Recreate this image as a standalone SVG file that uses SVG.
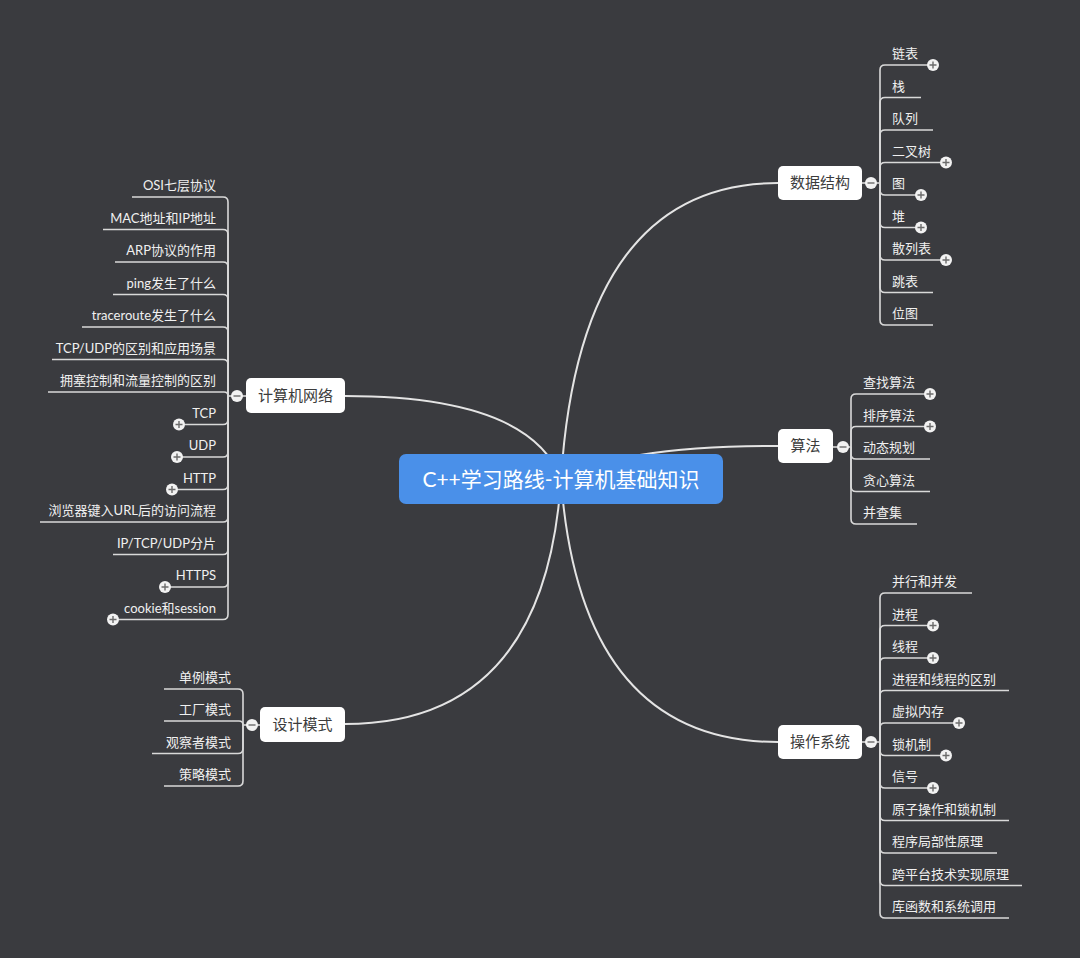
<svg xmlns="http://www.w3.org/2000/svg" xmlns:xlink="http://www.w3.org/1999/xlink" width="1080" height="958" viewBox="0 0 1080 958">
<style>
.bg{fill:#3a3b3f}
.main{fill:none;stroke:#e4e4e4;stroke-width:2}
.ln{fill:none;stroke:#d9d9d9;stroke-width:1.6}
.leaf{font-family:Lato,"Noto Sans CJK SC",sans-serif;font-size:13px;fill:#f0f0f0}
.lft{text-anchor:end}
.nrect{fill:#ffffff}
.ntext{font-family:"Noto Sans CJK SC","Noto Sans",sans-serif;font-size:15px;fill:#3c3c3c;text-anchor:middle}
.ctext{font-family:Lato,"Noto Sans CJK SC",sans-serif;font-size:21px;fill:#ffffff;text-anchor:middle}
</style>
<defs>
<g id="plus"><circle r="6" fill="#f2f2f2"/><path d="M-3.5,0H3.5M0,-3.5V3.5" stroke="#6b6b6b" stroke-width="1.4"/></g>
<g id="minus"><circle r="6" fill="#f2f2f2"/><path d="M-3.5,0H3.5" stroke="#6b6b6b" stroke-width="1.4"/></g>
</defs>
<rect class="bg" x="0" y="0" width="1080" height="958"/>

<g id="connectors">
<path class="main" d="M561,479 Q580,183 778,183"/>
<path class="main" d="M561,479 Q620,446 778,446"/>
<path class="main" d="M561,479 Q580,742 778,742"/>
<path class="main" d="M561,479 Q530,396 345,396"/>
<path class="main" d="M561,479 Q545,724 345,724"/>
<!-- data structures -->
<path class="ln" d="M862,183H880"/>
<path class="ln" d="M880,183V70Q880,65 885,65H933"/>
<path class="ln" d="M880,183V102.5Q880,97.5 885,97.5H921"/>
<path class="ln" d="M880,183V135Q880,130 885,130H933"/>
<path class="ln" d="M880,183V167.5Q880,162.5 885,162.5H946"/>
<path class="ln" d="M880,183V190Q880,195 885,195H921"/>
<path class="ln" d="M880,183V222.5Q880,227.5 885,227.5H921"/>
<path class="ln" d="M880,183V255Q880,260 885,260H946"/>
<path class="ln" d="M880,183V287.5Q880,292.5 885,292.5H933"/>
<path class="ln" d="M880,183V320Q880,325 885,325H933"/>
<!-- algorithms -->
<path class="ln" d="M833,447H851"/>
<path class="ln" d="M851,447V399Q851,394 856,394H930"/>
<path class="ln" d="M851,447V431.5Q851,426.5 856,426.5H930"/>
<path class="ln" d="M851,447V454Q851,459 856,459H930"/>
<path class="ln" d="M851,447V486.5Q851,491.5 856,491.5H930"/>
<path class="ln" d="M851,447V519Q851,524 856,524H917"/>
<!-- operating system -->
<path class="ln" d="M862,742H880"/>
<path class="ln" d="M880,742V598Q880,593 885,593H972"/>
<path class="ln" d="M880,742V630.5Q880,625.5 885,625.5H933"/>
<path class="ln" d="M880,742V663Q880,658 885,658H933"/>
<path class="ln" d="M880,742V695.5Q880,690.5 885,690.5H1009"/>
<path class="ln" d="M880,742V728Q880,723 885,723H959"/>
<path class="ln" d="M880,742V750.5Q880,755.5 885,755.5H946"/>
<path class="ln" d="M880,742V783Q880,788 885,788H933"/>
<path class="ln" d="M880,742V815.5Q880,820.5 885,820.5H1009"/>
<path class="ln" d="M880,742V848Q880,853 885,853H997"/>
<path class="ln" d="M880,742V880.5Q880,885.5 885,885.5H1022"/>
<path class="ln" d="M880,742V913Q880,918 885,918H1009"/>
<!-- network -->
<path class="ln" d="M246,396H228"/>
<path class="ln" d="M228,396V202Q228,197 223,197H132"/>
<path class="ln" d="M228,396V234.5Q228,229.5 223,229.5H103"/>
<path class="ln" d="M228,396V267Q228,262 223,262H115"/>
<path class="ln" d="M228,396V299.5Q228,294.5 223,294.5H113"/>
<path class="ln" d="M228,396V332Q228,327 223,327H82"/>
<path class="ln" d="M228,396V364.5Q228,359.5 223,359.5H52"/>
<path class="ln" d="M228,396V396Q228,392 224,392H48"/>
<path class="ln" d="M228,396V419.5Q228,424.5 223,424.5H179"/>
<path class="ln" d="M228,396V452Q228,457 223,457H177"/>
<path class="ln" d="M228,396V484.5Q228,489.5 223,489.5H172"/>
<path class="ln" d="M228,396V517Q228,522 223,522H40"/>
<path class="ln" d="M228,396V549.5Q228,554.5 223,554.5H113"/>
<path class="ln" d="M228,396V582Q228,587 223,587H165"/>
<path class="ln" d="M228,396V614.5Q228,619.5 223,619.5H113"/>
<!-- design patterns -->
<path class="ln" d="M260,725H243"/>
<path class="ln" d="M243,725V694Q243,689 238,689H164"/>
<path class="ln" d="M243,725V725Q243,721 239,721H164"/>
<path class="ln" d="M243,725V748.5Q243,753.5 238,753.5H152"/>
<path class="ln" d="M243,725V781Q243,786 238,786H164"/>
</g>

<g id="center">
<rect x="399" y="454" width="324" height="50" rx="7" fill="#4a90e9"/>
<text class="ctext" x="561" y="487">C++学习路线-计算机基础知识</text>
</g>

<g id="data-structures">
<rect class="nrect" x="778" y="166" width="84" height="34" rx="5"/>
<text class="ntext" x="820" y="188">数据结构</text>
<use xlink:href="#minus" x="871" y="183"/>
<text class="leaf" x="892" y="58">链表</text>
<text class="leaf" x="892" y="90.5">栈</text>
<text class="leaf" x="892" y="123">队列</text>
<text class="leaf" x="892" y="155.5">二叉树</text>
<text class="leaf" x="892" y="188">图</text>
<text class="leaf" x="892" y="220.5">堆</text>
<text class="leaf" x="892" y="253">散列表</text>
<text class="leaf" x="892" y="285.5">跳表</text>
<text class="leaf" x="892" y="318">位图</text>
<use xlink:href="#plus" x="933" y="65"/>
<use xlink:href="#plus" x="946" y="162.5"/>
<use xlink:href="#plus" x="921" y="195"/>
<use xlink:href="#plus" x="921" y="227.5"/>
<use xlink:href="#plus" x="946" y="260"/>
</g>

<g id="algorithms">
<rect class="nrect" x="778" y="429" width="55" height="34" rx="5"/>
<text class="ntext" x="805.5" y="451">算法</text>
<use xlink:href="#minus" x="843" y="447"/>
<text class="leaf" x="863" y="387">查找算法</text>
<text class="leaf" x="863" y="419.5">排序算法</text>
<text class="leaf" x="863" y="452">动态规划</text>
<text class="leaf" x="863" y="484.5">贪心算法</text>
<text class="leaf" x="863" y="517">并查集</text>
<use xlink:href="#plus" x="930" y="394"/>
<use xlink:href="#plus" x="930" y="426.5"/>
</g>

<g id="operating-system">
<rect class="nrect" x="778" y="725" width="84" height="34" rx="5"/>
<text class="ntext" x="820" y="747">操作系统</text>
<use xlink:href="#minus" x="871" y="742"/>
<text class="leaf" x="892" y="586">并行和并发</text>
<text class="leaf" x="892" y="618.5">进程</text>
<text class="leaf" x="892" y="651">线程</text>
<text class="leaf" x="892" y="683.5">进程和线程的区别</text>
<text class="leaf" x="892" y="716">虚拟内存</text>
<text class="leaf" x="892" y="748.5">锁机制</text>
<text class="leaf" x="892" y="781">信号</text>
<text class="leaf" x="892" y="813.5">原子操作和锁机制</text>
<text class="leaf" x="892" y="846">程序局部性原理</text>
<text class="leaf" x="892" y="878.5">跨平台技术实现原理</text>
<text class="leaf" x="892" y="911">库函数和系统调用</text>
<use xlink:href="#plus" x="933" y="625.5"/>
<use xlink:href="#plus" x="933" y="658"/>
<use xlink:href="#plus" x="959" y="723"/>
<use xlink:href="#plus" x="946" y="755.5"/>
<use xlink:href="#plus" x="933" y="788"/>
</g>

<g id="network">
<rect class="nrect" x="246" y="378" width="99" height="35" rx="5"/>
<text class="ntext" x="295.5" y="401">计算机网络</text>
<use xlink:href="#minus" x="237" y="396"/>
<text class="leaf lft" x="216" y="190">OSI七层协议</text>
<text class="leaf lft" x="216" y="222.5">MAC地址和IP地址</text>
<text class="leaf lft" x="216" y="255">ARP协议的作用</text>
<text class="leaf lft" x="216" y="287.5">ping发生了什么</text>
<text class="leaf lft" x="216" y="320">traceroute发生了什么</text>
<text class="leaf lft" x="216" y="352.5">TCP/UDP的区别和应用场景</text>
<text class="leaf lft" x="216" y="385">拥塞控制和流量控制的区别</text>
<text class="leaf lft" x="216" y="417.5">TCP</text>
<text class="leaf lft" x="216" y="450">UDP</text>
<text class="leaf lft" x="216" y="482.5">HTTP</text>
<text class="leaf lft" x="216" y="515">浏览器键入URL后的访问流程</text>
<text class="leaf lft" x="216" y="547.5">IP/TCP/UDP分片</text>
<text class="leaf lft" x="216" y="580">HTTPS</text>
<text class="leaf lft" x="216" y="612.5">cookie和session</text>
<use xlink:href="#plus" x="179" y="424.5"/>
<use xlink:href="#plus" x="177" y="457"/>
<use xlink:href="#plus" x="172" y="489.5"/>
<use xlink:href="#plus" x="165" y="587"/>
<use xlink:href="#plus" x="113" y="619.5"/>
</g>

<g id="design-patterns">
<rect class="nrect" x="260" y="707" width="85" height="35" rx="5"/>
<text class="ntext" x="302.5" y="730">设计模式</text>
<use xlink:href="#minus" x="252" y="725"/>
<text class="leaf lft" x="231" y="682">单例模式</text>
<text class="leaf lft" x="231" y="714">工厂模式</text>
<text class="leaf lft" x="231" y="746.5">观察者模式</text>
<text class="leaf lft" x="231" y="779">策略模式</text>
</g>
</svg>
